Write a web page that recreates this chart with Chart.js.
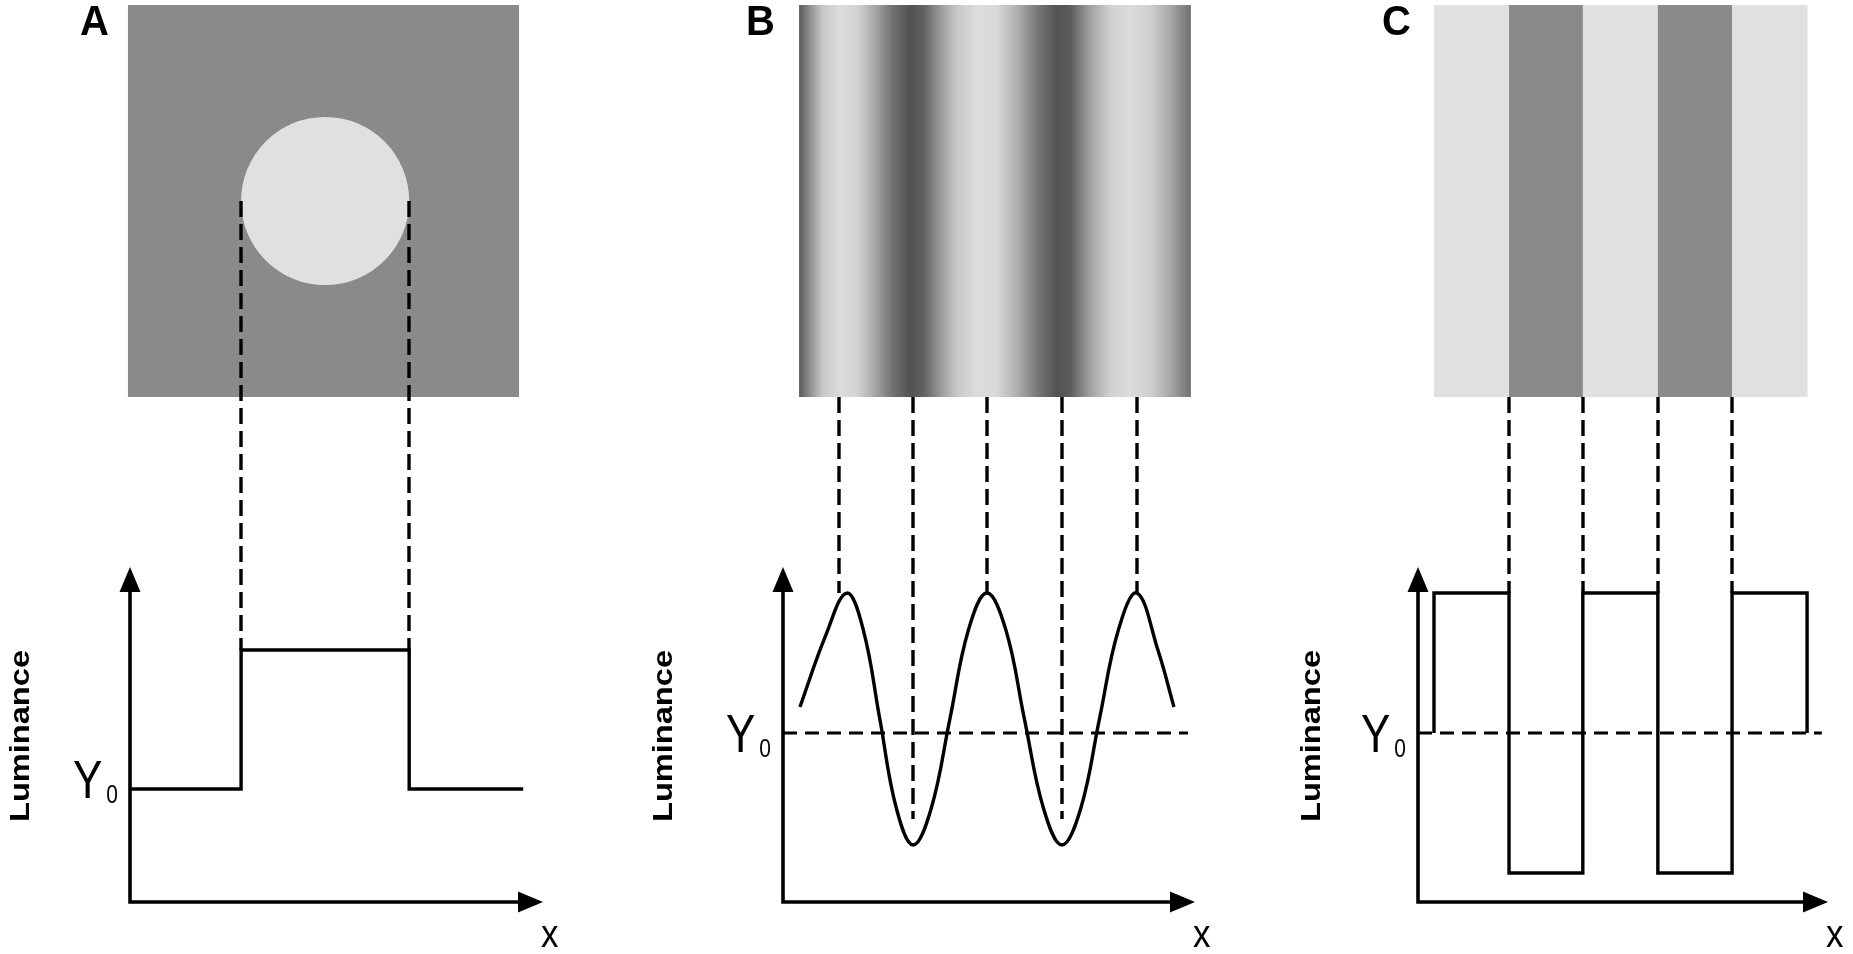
<!DOCTYPE html>
<html>
<head>
<meta charset="utf-8">
<title>Luminance profiles</title>
<script src="https://cdn.jsdelivr.net/npm/chart.js@4.4.1/dist/chart.umd.min.js"></script>
<style>
  html, body { margin: 0; padding: 0; background: #fff; }
  #page { position: relative; width: 1853px; height: 954px; }
  #page canvas { position: absolute; left: 0; top: 0; }
</style>
</head>
<body>
<div id="page">
  <canvas id="panel-a" width="1853" height="954"></canvas>
  <canvas id="panel-b" width="1853" height="954"></canvas>
  <canvas id="panel-c" width="1853" height="954"></canvas>
</div>
<script>
// x is position along the x axis (0 = y axis, 100 = arrow tip)
// luminance is given as grey level, so the pictures above use the same numbers

// A: bright disc on a uniform background
const imageSpanA = [-0.5, 94.2];
const stepXA = [0, 26.9, 67.6, 95.2];
const stepLumA = [138, 224, 138, 138];
const dropXA = [26.9, 67.6];
const dropLumA = [224, 224];
const y0A = 138;

// B: sine-wave grating
const sineXB = [4.1, 10.4, 15.5, 19.5, 23.5, 27.5, 31.6, 36.0, 40.5, 45.0, 49.5,
                54.1, 58.6, 63.2, 67.7, 72.3, 76.8, 81.4, 85.9, 91.0, 94.9];
const sineLumB = [154.4, 195.8, 220, 198.7, 147.5, 96.3, 75, 96.3, 147.5, 198.7, 220,
                  198.7, 147.5, 96.3, 75, 96.3, 147.5, 198.7, 220, 187.2, 154.4];
const gratingXB = [3.9, 6.6, 9.7, 13.8, 18.0, 22.8, 26.7, 30.8, 34.0, 38.1, 42.2, 47.1,
                   51.9, 56.8, 61.7, 66.5, 69.7, 74.5, 79.4, 84.2, 89.1, 93.9, 99.0];
const gratingGreyB = [90, 144, 200, 220, 212, 160, 112, 82, 96, 152, 200, 220,
                      216, 176, 120, 82, 92, 160, 208, 220, 208, 168, 112];
const dropXB = [13.5, 31.6, 49.5, 67.7, 85.9];
const dropLumB = [220, 90, 220, 90, 220];
const y0B = 139.5;
const y0SpanB = [0, 98.3];

// C: square-wave grating (x where the luminance changes, and the new level)
const edgeXC = [3.9, 3.9, 22.2, 40.2, 58.5, 76.6, 94.9];
const edgeLumC = [181, 224, 138, 224, 138, 224, 181];
const dropXC = [22.2, 40.2, 58.5, 76.6];
const dropLumC = [224, 224, 224, 224];
const y0C = 181;
const y0SpanC = [0, 98.5];

const W = 1853, H = 954;
const IMG_TOP = 5, IMG_BOTTOM = 397;
const PLOT_TOP = 567, PLOT_BOTTOM = 902;
const FONT = '"Liberation Sans", Arial, Helvetica, sans-serif';

function grey(v) {
    const g = Math.round(v);
    return "rgb(" + g + "," + g + "," + g + ")";
}

function points(xs, ys) {
    return xs.map((x, i) => ({ x: x, y: ys[i] }));
}

function profile(xs, ys, extra) {
    return Object.assign({
        data: points(xs, ys),
        borderColor: "#000",
        borderWidth: 3.4,
        borderJoinStyle: "miter",
        pointRadius: 0,
        fill: false,
        tension: 0,
    }, extra);
}

function y0Line(span, y0) {
    return profile(span, [y0, y0], { borderWidth: 3, borderDash: [14, 8] });
}

function drawDisc(chart) {
    const { ctx, scales: { x } } = chart;
    const left = x.getPixelForValue(imageSpanA[0]);
    const right = x.getPixelForValue(imageSpanA[1]);
    ctx.fillStyle = grey(y0A);
    ctx.fillRect(left, IMG_TOP, right - left, IMG_BOTTOM - IMG_TOP);
    const x1 = x.getPixelForValue(stepXA[1]);
    const x2 = x.getPixelForValue(stepXA[2]);
    ctx.fillStyle = grey(stepLumA[1]);
    ctx.beginPath();
    ctx.arc((x1 + x2) / 2, (IMG_TOP + IMG_BOTTOM) / 2, (x2 - x1) / 2, 0, Math.PI * 2);
    ctx.fill();
}

function drawGrating(chart) {
    const { ctx, scales: { x } } = chart;
    const left = x.getPixelForValue(gratingXB[0]);
    const right = x.getPixelForValue(gratingXB[gratingXB.length - 1]);
    const grad = ctx.createLinearGradient(left, 0, right, 0);
    gratingXB.forEach((v, i) => {
        grad.addColorStop((x.getPixelForValue(v) - left) / (right - left), grey(gratingGreyB[i]));
    });
    ctx.fillStyle = grad;
    ctx.fillRect(left, IMG_TOP, right - left, IMG_BOTTOM - IMG_TOP);
}

function drawStripes(chart) {
    const { ctx, scales: { x } } = chart;
    for (let i = 0; i < edgeXC.length - 1; i++) {
        const a = x.getPixelForValue(edgeXC[i]);
        const b = x.getPixelForValue(edgeXC[i + 1]);
        if (b <= a) continue;
        ctx.fillStyle = grey(edgeLumC[i]);
        ctx.fillRect(a, IMG_TOP, b - a + 0.5, IMG_BOTTOM - IMG_TOP);
    }
}

function stretchedText(ctx, str, x, y, font, align, sy) {
    ctx.save();
    ctx.font = font;
    ctx.textAlign = align;
    ctx.textBaseline = "alphabetic";
    ctx.translate(x, y);
    ctx.scale(1, sy);
    ctx.fillText(str, 0, 0);
    ctx.restore();
}

function figurePlugin(p) {
    return {
        id: "figure",
        beforeDatasetsDraw(chart) {
            const { ctx, scales: { x, y } } = chart;
            ctx.save();
            p.drawImage(chart);
            // dashed drop lines from the picture to the profile
            ctx.strokeStyle = "#000";
            ctx.lineWidth = 3.4;
            ctx.setLineDash([16, 7]);
            p.dropX.forEach((v, i) => {
                const px = Math.round(x.getPixelForValue(v));
                ctx.beginPath();
                ctx.moveTo(px, p.dropFrom);
                ctx.lineTo(px, y.getPixelForValue(p.dropLum[i]));
                ctx.stroke();
            });
            ctx.restore();
        },
        afterDatasetsDraw(chart) {
            const { ctx, chartArea: { left, right, top, bottom }, scales: { y } } = chart;
            const arrowLen = 25, arrowHalf = 10.5;
            ctx.save();
            ctx.strokeStyle = "#000";
            ctx.fillStyle = "#000";
            ctx.lineWidth = 3.6;
            ctx.beginPath();
            ctx.moveTo(left, top + arrowLen - 2);
            ctx.lineTo(left, bottom);
            ctx.lineTo(right - arrowLen + 2, bottom);
            ctx.stroke();
            ctx.beginPath();
            ctx.moveTo(left, top);
            ctx.lineTo(left - arrowHalf, top + arrowLen);
            ctx.lineTo(left + arrowHalf, top + arrowLen);
            ctx.closePath();
            ctx.fill();
            ctx.beginPath();
            ctx.moveTo(right, bottom);
            ctx.lineTo(right - arrowLen, bottom - arrowHalf);
            ctx.lineTo(right - arrowLen, bottom + arrowHalf);
            ctx.closePath();
            ctx.fill();

            // panel letter
            stretchedText(ctx, p.letter, p.letterX, 35, "bold 40px " + FONT, "left", 1.08);

            // rotated axis title
            ctx.save();
            ctx.font = "bold 28px " + FONT;
            const w = ctx.measureText("Luminance").width;
            ctx.translate(p.lumLabelX, 736);
            ctx.rotate(-Math.PI / 2);
            ctx.scale(172 / w, 1);
            ctx.textAlign = "center";
            ctx.textBaseline = "alphabetic";
            ctx.fillText("Luminance", 0, 0);
            ctx.restore();

            // Y0 label
            const yPix = y.getPixelForValue(p.y0);
            ctx.font = "21px " + FONT;
            const zeroW = ctx.measureText("0").width;
            const zeroRight = left - 12;
            stretchedText(ctx, "0", zeroRight, yPix + p.y0Dy + 5, "21px " + FONT, "right", 1.24);
            stretchedText(ctx, "Y", zeroRight - zeroW - 4, yPix + p.y0Dy, "44px " + FONT, "right", 1.22);

            // x label
            stretchedText(ctx, "x", right - 2, 947, "35px " + FONT, "left", 1.13);
            ctx.restore();
        }
    };
}

const panels = [
    {
        canvas: "panel-a", letter: "A", letterX: 80, lumLabelX: 29,
        axisLeft: 130, axisRight: 543, lumRange: [68.1, 275.4],
        y0: y0A, y0Dy: 9, drawImage: drawDisc,
        dropX: dropXA, dropLum: dropLumA, dropFrom: (IMG_TOP + IMG_BOTTOM) / 2,
        datasets: [profile(stepXA, stepLumA, { stepped: "before" })],
    },
    {
        canvas: "panel-b", letter: "B", letterX: 746, lumLabelX: 672,
        axisLeft: 783, axisRight: 1195, lumRange: [42.2, 235.0],
        y0: y0B, y0Dy: 19, drawImage: drawGrating,
        dropX: dropXB, dropLum: dropLumB, dropFrom: IMG_BOTTOM,
        datasets: [
            profile(sineXB, sineLumB, { tension: 0.4 }),
            y0Line(y0SpanB, y0B),
        ],
    },
    {
        canvas: "panel-c", letter: "C", letterX: 1382, lumLabelX: 1320,
        axisLeft: 1418, axisRight: 1828, lumRange: [129.1, 232.0],
        y0: y0C, y0Dy: 19, drawImage: drawStripes,
        dropX: dropXC, dropLum: dropLumC, dropFrom: IMG_BOTTOM,
        datasets: [
            profile(edgeXC, edgeLumC, { stepped: "before" }),
            y0Line(y0SpanC, y0C),
        ],
    },
];

panels.forEach((p) => {
    const ctx = document.getElementById(p.canvas);
    new Chart(ctx, {
        type: "line",
        data: { datasets: p.datasets },
        options: {
            responsive: false,
            animation: false,
            devicePixelRatio: 1,
            events: [],
            layout: {
                padding: { left: p.axisLeft, right: W - p.axisRight, top: PLOT_TOP, bottom: H - PLOT_BOTTOM },
            },
            plugins: {
                legend: { display: false },
                tooltip: { enabled: false },
            },
            scales: {
                x: { type: "linear", min: 0, max: 100, display: false },
                y: { type: "linear", min: p.lumRange[0], max: p.lumRange[1], display: false },
            },
        },
        plugins: [figurePlugin(p)],
    });
});
</script>
</body>
</html>
